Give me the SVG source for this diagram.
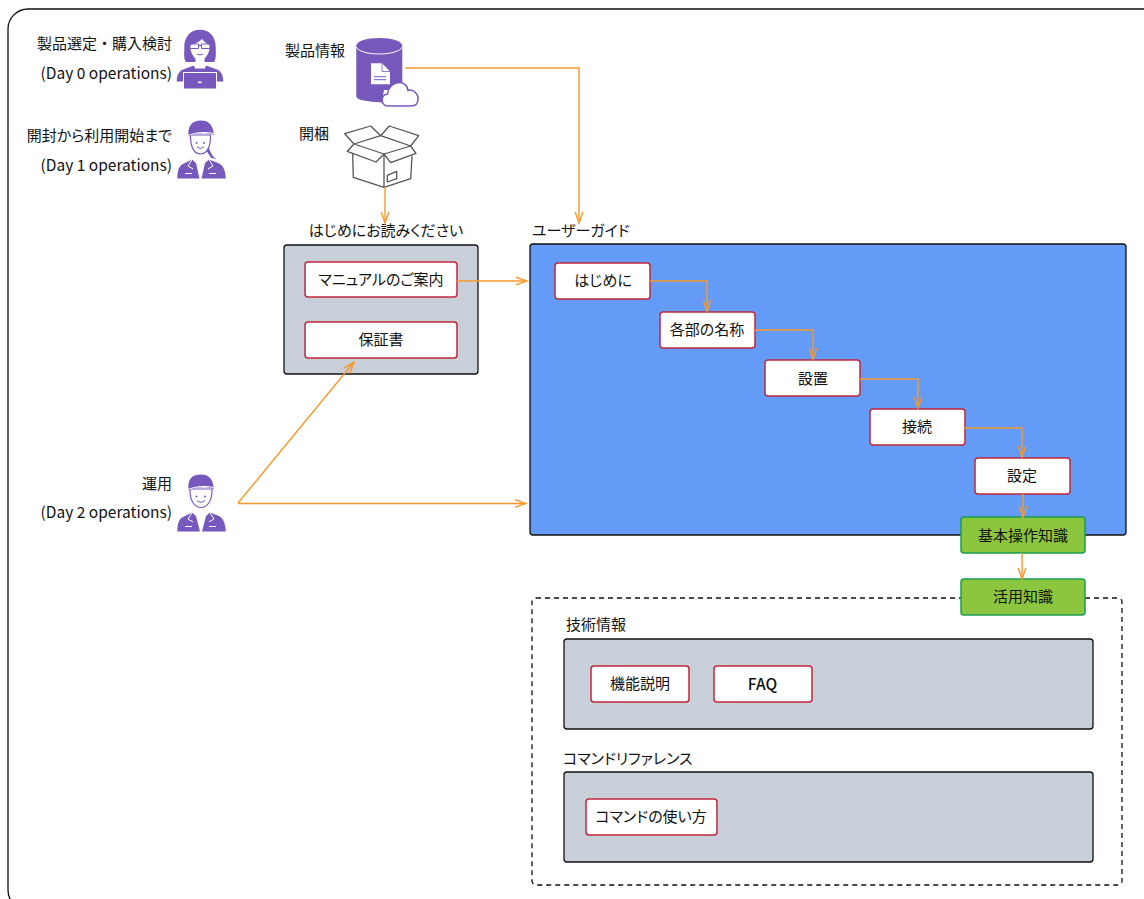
<svg xmlns="http://www.w3.org/2000/svg" width="1144" height="899" viewBox="0 0 1144 899">
<style>
text{font-family:"Noto Sans CJK JP","Noto Sans",sans-serif;font-size:15px;fill:#111;font-feature-settings:"palt"}
.d{font-size:15.5px;font-feature-settings:normal}
.n{font-feature-settings:normal}
.m{text-anchor:middle}.e{text-anchor:end}
.w{fill:#fff;stroke:#c0283c;stroke-width:1.5}
.g{fill:#8cc63f;stroke:#1a9e50;stroke-width:1.5}
.p{fill:#c8cfd8;stroke:#111;stroke-width:1.3}
.c{fill:none;stroke:#f9982a;stroke-width:1.4;marker-end:url(#a)}
.u{fill:#7759bd}
.k{fill:none;stroke:#fff;stroke-width:1}
.o{fill:#fff;stroke:#7759bd;stroke-width:1.2}
.i{fill:none;stroke:#7759bd;stroke-width:1}
.b{fill:none;stroke:#555;stroke-width:1.3;stroke-linejoin:round}
</style>
<defs>
<marker id="a" markerUnits="userSpaceOnUse" markerWidth="13" markerHeight="10" refX="11.5" refY="5" orient="auto"><path d="M0 1L11.500 5L0 9" fill="none" stroke="#f9982a" stroke-width="1.400"/></marker>
</defs>
<rect id="frame" x="8" y="9" width="1160" height="901" rx="20" fill="#fff" stroke="#111" stroke-width="1.300"/>
<g id="persona-day0">
<text class="e n" x="172" y="49">製品選定・購入検討</text>
<text class="e d" x="172" y="79">(Day 0 operations)</text>
<path class="u" d="M200 29.700C190 29.700 184.300 37 184.300 47C184.300 54 183.500 59 186 62L214 62C216.500 59 215.700 54 215.700 47C215.700 37 210 29.700 200 29.700Z"/>
<path d="M190 45C194 44.500 199 42 202 39C204 42 207 44 210 45C210 53 205 60.500 200 60.500C195 60.500 190 53 190 45Z" fill="#fff"/>
<rect x="195.500" y="58" width="9" height="8" fill="#fff"/>
<path class="i" d="M190 44h8.500v4.500h-8.500zM201.500 44h8.500v4.500h-8.500zM198.500 45.500h3"/>
<path class="i" d="M197 54Q200 56 203 54"/>
<path class="u" d="M176.700 81.500C177 75 179 71 183 69.500L194 65.500L195 68.500H205L206 65.500L217 69.500C221 71 223 75 223.300 81.500Z"/>
<rect x="183.500" y="72.500" width="33" height="16.500" fill="#7759bd" stroke="#fff"/>
<rect x="198" y="81.500" width="3.500" height="1.600" fill="#fff"/>
</g>
<g id="persona-day1">
<text class="e" x="172" y="141">開封から利用開始まで</text>
<text class="e d" x="172" y="171">(Day 1 operations)</text>
<path class="u" d="M208 146L211 153C213 157 215 158 217 159L211 158L206 150Z"/>
<path class="o" d="M190.500 135C190 148 195 154 200.500 154C206 154 211 148 210.500 135Z"/>
<path class="u" d="M188.500 136.500C187.500 127 191 120.500 201 120.500C209 120.500 213 125 214 135C208 132.500 195 132.500 188.500 136.500Z"/>
<path class="k" d="M188 135.500Q200 130.500 214 133.500"/>
<circle class="u" cx="196.500" cy="143" r="1"/><circle class="u" cx="204" cy="143" r="1"/>
<path class="i" d="M197 147Q200.500 150 204 147"/>
<path d="M195 157H206V174H195Z" fill="#fff"/>
<path class="u" d="M177.300 178.500C177.500 170 179 166 183 164L192 159.500L196 163L199.500 178.500H201.500L205 163L209 159.500L218 163C223 165 225.500 170 225.800 178.500Z"/>
<path class="k" d="M192 159.500L188 166L193 169M209 159.500L213 166L208 169M185 173.500H192M209 173.500H216"/>
</g>
<g id="persona-day2">
<text class="e" x="172" y="489">運用</text>
<text class="e d" x="172" y="518">(Day 2 operations)</text>
<path class="o" d="M190 489C189.500 501 195 507.500 201 507.500C207 507.500 212.500 501 212 489Z"/>
<path class="u" d="M188.500 490.500C187.500 480 191 474.500 201 474.500C209 474.500 213 479 214 489C208 486.500 195 486.500 188.500 490.500Z"/>
<path class="k" d="M188 489.500Q200 484.500 214 487.500"/>
<circle class="u" cx="196.500" cy="496.500" r="1"/><circle class="u" cx="205" cy="496.500" r="1"/>
<path class="i" d="M197 500.500Q201 504 205 500.500"/>
<path d="M195 510H207V527H195Z" fill="#fff"/>
<path class="u" d="M177.300 531.500C177.500 523 179 519 183 517L192 512.500L196 516L200 531.500H202L206 516L210 512.500L219 516C223 518 225.500 523 225.800 531.500Z"/>
<path class="k" d="M192 512.500L188 519L193 522M210 512.500L214 519L209 522M185 526.500H192M209 526.500H216"/>
</g>
<g id="product-info">
<text class="m" x="315" y="56">製品情報</text>
<path class="u" d="M356.300 46C356.300 41 366 38 379.300 38C392.600 38 402.300 41 402.300 46V90H384L382 102.500C367 101.500 356.300 100 356.300 96.500Z"/>
<path class="k" d="M356.300 47C358 51 367 54 379.300 54C391.600 54 400.500 51 402.300 47"/>
<path d="M371 63.300H382L390 71.500V84.300H371Z" fill="#fff"/>
<path d="M382 63.300V71.500H390" fill="none" stroke="#7759bd" stroke-width=".8"/>
<path d="M374 76.700H386M374 79.700H386" stroke="#7759bd"/>
<path d="M388 106C380.500 106 380 95 387.500 94C389 80 406.500 79 408 90.500C414 88.500 418.500 95 418 99C418 104 415 106 411 106Z" fill="#fff" stroke="#7759bd" stroke-width="1.500"/>
</g>
<g id="unbox">
<text class="m" x="314" y="139">開梱</text>
<path class="b" d="M352.700 154L353.300 177.300L384 187.300L410.700 178.700L412 156M384 154V187.300"/>
<path class="b" d="M354 144L344.700 133.700L370.700 126L380.700 135.700L389.300 126L418.700 135.700L410.700 146L384 154L354 144L380.700 135.700L410.700 146"/>
<path class="b" d="M354 144L347.300 151.300L376 162L384 154L390.700 162.700L416 153.300L410.700 146"/>
<path class="b" d="M387.300 175.300L396.700 171.300V178.700L387.300 182Z"/>
</g>
<g id="first-read">
<text class="m" x="386" y="236">はじめにお読みください</text>
<rect class="p" x="284" y="245" width="194" height="129" rx="3"/>
</g>
<g id="n-manual"><rect class="w" x="305" y="262" width="152" height="35" rx="3"/><text class="m" x="381" y="285">マニュアルのご案内</text></g>
<g id="n-warranty"><rect class="w" x="305" y="322" width="152" height="36" rx="3"/><text class="m" x="381" y="345">保証書</text></g>
<g id="user-guide">
<text x="532" y="236">ユーザーガイド</text>
<rect x="530" y="244" width="596" height="291" rx="3" fill="#639bf6" stroke="#111" stroke-width="1.300"/>
</g>
<g id="tech-area">
<rect x="532" y="598" width="590" height="287" rx="4" fill="none" stroke="#111" stroke-width="1.300" stroke-dasharray="5 4"/>
</g>
<g id="n1"><rect class="w" x="555" y="263" width="95" height="36" rx="3"/><text class="m" x="603" y="286">はじめに</text></g>
<g id="n2"><rect class="w" x="660" y="312" width="95" height="36" rx="3"/><text class="m" x="707" y="335">各部の名称</text></g>
<g id="n3"><rect class="w" x="765" y="360" width="95" height="36" rx="3"/><text class="m" x="813" y="384">設置</text></g>
<g id="n4"><rect class="w" x="870" y="409" width="95" height="36" rx="3"/><text class="m" x="917" y="432">接続</text></g>
<g id="n5"><rect class="w" x="975" y="458" width="95" height="36" rx="3"/><text class="m" x="1022" y="481">設定</text></g>
<g id="n-basic"><rect class="g" x="961" y="517" width="124" height="36" rx="3"/><text class="m" x="1023" y="541">基本操作知識</text></g>
<g id="n-adv"><rect class="g" x="961" y="579" width="124" height="36" rx="3"/><text class="m" x="1023" y="602">活用知識</text></g>
<g id="tech-info">
<text x="566" y="630">技術情報</text>
<rect class="p" x="564" y="639" width="529" height="90" rx="3"/>
</g>
<g id="n-func"><rect class="w" x="591" y="666" width="98" height="36" rx="3"/><text class="m" x="640" y="689">機能説明</text></g>
<g id="n-faq"><rect class="w" x="714" y="666" width="98" height="36" rx="3"/><text class="m" x="762.500" y="690" style="font-size:15.500px;font-weight:500">FAQ</text></g>
<g id="cmd-ref">
<text x="563" y="764">コマンドリファレンス</text>
<rect class="p" x="564" y="772" width="529" height="90" rx="3"/>
</g>
<g id="n-cmd"><rect class="w" x="586" y="799" width="131" height="36" rx="3"/><text class="m" x="651" y="822">コマンドの使い方</text></g>
<g id="connectors">
<path class="c" d="M405 68H579V223"/>
<path class="c" d="M385 187V223"/>
<path class="c" d="M457 281H527"/>
<path class="c" d="M238 503L354 362"/>
<path class="c" d="M238 503.500H526"/>
<path class="c" d="M650 281H707V311"/>
<path class="c" d="M755 330H813V359"/>
<path class="c" d="M860 379H918V408"/>
<path class="c" d="M965 428H1022V457"/>
<path class="c" d="M1023 494V517"/>
<path class="c" d="M1022 553V579"/>
</g>
</svg>
